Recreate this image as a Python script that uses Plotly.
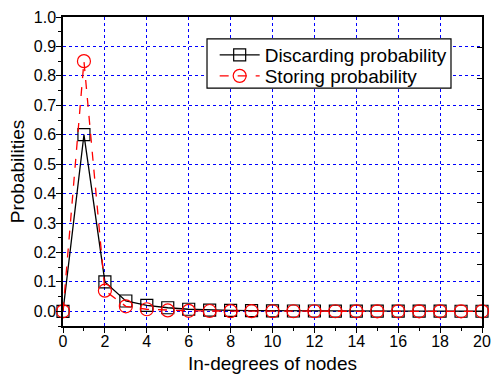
import plotly.graph_objects as go

x_vals = list(range(0, 21))
discarding = [0.0, 0.60, 0.10, 0.035, 0.02, 0.012, 0.007, 0.004, 0.003, 0.002, 0.0015,
              0.001, 0.001, 0.0008, 0.0006, 0.0005, 0.0004, 0.0003, 0.0003, 0.0002, 0.0002]
storing = [0.0, 0.85, 0.07, 0.017, 0.007, 0.003, 0.0015, 0.001, 0.0005, 0.0003, 0.0002,
           0.0001, 0.0001, 0.0001, 0.0, 0.0, 0.0, 0.0, 0.0, 0.0, 0.0]
x_ticks = list(range(0, 21, 2))
y_ticks = [i / 10 for i in range(11)]
y_ticktext = [f"{v:.1f}" for v in y_ticks]

font = "Liberation Sans, Arial, sans-serif"

fig = go.Figure()
fig.add_trace(go.Scatter(
    x=x_vals, y=discarding, name="Discarding probability", mode="lines+markers",
    line=dict(color="black", width=1.3),
    marker=dict(symbol="square-open", size=12, color="black", line=dict(width=1.2)),
    cliponaxis=False, legend="legend",
))
fig.add_trace(go.Scatter(
    x=x_vals, y=storing, name="Storing probability", mode="lines+markers",
    line=dict(color="red", width=1.3, dash="dash"),
    marker=dict(symbol="circle-open", size=13, color="red", line=dict(width=1.2)),
    cliponaxis=False, legend="legend2",
))
fig.add_trace(go.Scatter(
    x=[None], y=[None], yaxis="y2", showlegend=False, hoverinfo="skip", mode="markers",
))

leg_common = dict(
    xanchor="left", yanchor="middle", borderwidth=0, bgcolor="rgba(0,0,0,0)",
    font=dict(size=19, family=font), itemwidth=40,
)

fig.update_layout(
    width=491, height=375,
    margin=dict(l=63, r=9, t=17, b=49, autoexpand=False),
    paper_bgcolor="white", plot_bgcolor="white",
    font=dict(family=font, color="black"),
    legend=dict(x=0.362, y=0.877, **leg_common),
    legend2=dict(x=0.362, y=0.809, **leg_common),
    showlegend=True,
    shapes=[dict(
        type="rect", xref="paper", yref="paper", x0=0.3437, x1=0.926, y0=0.770, y1=0.929,
        line=dict(color="black", width=1.2), fillcolor="white", layer="above",
    )],
    yaxis2=dict(
        overlaying="y", side="right", range=[0, 1], tickmode="linear", tick0=0, dtick=0.1,
        ticks="inside", ticklen=5, tickwidth=1.2, tickcolor="black",
        showticklabels=False, showgrid=False, zeroline=False, showline=False,
        automargin=False,
    ),
)
fig.update_xaxes(
    range=[0, 20], tickmode="array", tickvals=x_ticks,
    ticks="outside", ticklen=5, tickwidth=1.2, tickcolor="black",
    minor=dict(tickvals=list(range(1, 20, 2)), ticks="outside", ticklen=3, tickcolor="black", showgrid=False),
    showline=True, linecolor="black", linewidth=1.5, mirror=True,
    showgrid=True, gridcolor="blue", griddash="dot", gridwidth=1,
    zeroline=False, automargin=False, ticklabelstandoff=-5,
    tickfont=dict(size=16), title=dict(text="In-degrees of nodes", font=dict(size=19), standoff=8),
)
fig.layout.yaxis.update(
    range=[-0.05, 1.0], tickmode="array", tickvals=y_ticks, ticktext=y_ticktext,
    ticks="outside", ticklen=5, tickwidth=1.2, tickcolor="black",
    minor=dict(tickvals=[-0.05] + [v + 0.05 for v in y_ticks[:-1]], ticks="outside", ticklen=3, tickcolor="black", showgrid=False),
    showline=True, linecolor="black", linewidth=1.5, mirror=True,
    showgrid=True, gridcolor="blue", griddash="dot", gridwidth=1,
    zeroline=False, automargin=False, ticklabelstandoff=-3,
    tickfont=dict(size=16), title=dict(text="Probabilities", font=dict(size=19), standoff=4),
)

fig.write_html("out.html", post_script="document.body.style.margin='0';",
               config={"displayModeBar": False})
